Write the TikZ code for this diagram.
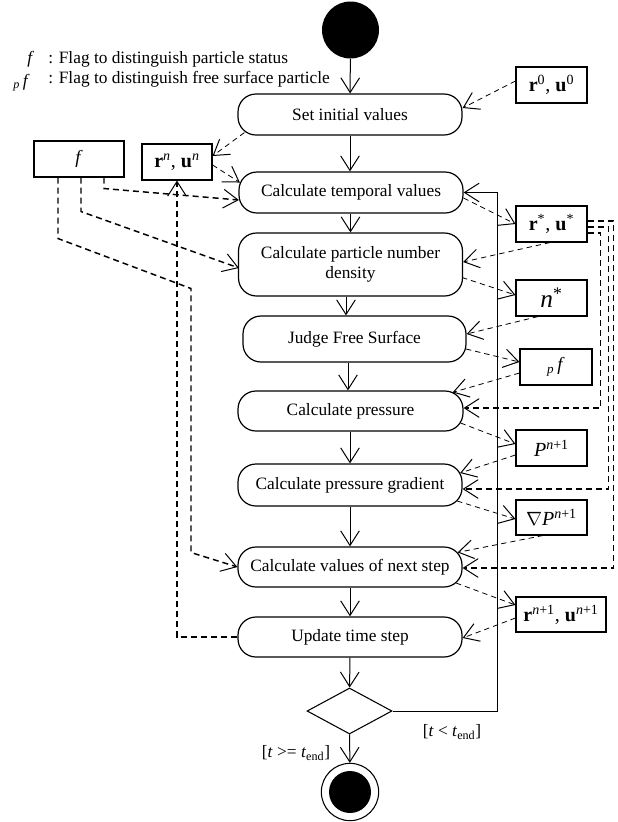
\documentclass[tikz,border=0pt]{standalone}
\usepackage{fontspec}
\setmainfont{Liberation Serif}
\usetikzlibrary{arrows.meta,calc,shapes.geometric}

\begin{document}
\begin{tikzpicture}[x=0.75pt,y=-0.75pt,
  action/.style={draw,line width=0.9pt,rounded corners=13.5pt,minimum width=168pt,
    minimum height=30.75pt,inner sep=0pt,align=center,font=\fontsize{13}{15}\selectfont},
  databox/.style={draw,line width=0.8pt,minimum width=53.25pt,minimum height=27pt,
    inner sep=0pt,font=\fontsize{15}{18}\selectfont},
  tip/.tip={Straight Barb[length=11pt,width=14pt,line width=0.75pt]},
  flow/.style={line width=0.75pt,-tip},
  dataflow/.style={line width=0.6pt,dash pattern=on 4pt off 3pt,-tip},
  route/.style={line width=1.1pt,dash pattern=on 4.5pt off 3pt},
  routearrow/.style={route,-tip},
  lbl/.style={inner sep=0pt,font=\fontsize{13}{15}\selectfont},
]
\useasboundingbox (0,0) rectangle (618,822);

% legend
\node[lbl,anchor=base west] (lgf) at (27,63) {\textit{f}};
\node[lbl,anchor=base west] (lg1) at (48,63) {: Flag to distinguish particle status};
\node[lbl,anchor=base west] (lgpf) at (13,86) {\textsubscript{\textit{p}}\,\textit{f}};
\node[lbl,anchor=base west] (lg2) at (48,83) {: Flag to distinguish free surface particle};

% activity nodes
\node[circle,fill,minimum size=42.75pt,inner sep=0pt] (start) at (350.5,30) {};
\node[action] (init) at (350,114.5) {Set initial values};
\node[action] (temp) at (351,192.5) {Calculate temporal values};
\node[action,minimum height=47.25pt] (dens) at (350.5,264.5) {Calculate particle number\\density};
\node[action,minimum width=167.25pt,minimum height=34.5pt] (judge) at (354.5,339) {Judge Free Surface};
\node[action,minimum width=168.75pt,minimum height=30pt] (pres) at (350.5,411) {Calculate pressure};
\node[action,minimum height=31.5pt] (grad) at (350,485) {Calculate pressure gradient};
\node[action,minimum height=30pt] (next) at (350,567) {Calculate values of next step};
\node[action,minimum height=30pt] (upd) at (350,637) {Update time step};
\node[diamond,draw,line width=0.8pt,minimum width=63.75pt,minimum height=34.5pt,inner sep=0pt] (diam) at (349.5,711) {};
\node[circle,draw,line width=0.8pt,minimum size=43pt,inner sep=0pt] (end) at (350,792) {};
\node[circle,fill,minimum size=31.5pt,inner sep=0pt] (endin) at (end) {};

% data objects
\node[databox] (r0) at (551.5,85) {\textbf{r}\textsuperscript{0}, \textbf{u}\textsuperscript{0}};
\node[databox,minimum width=52.5pt] (rn) at (177,162) {\textbf{r}\textsuperscript{\textit{n}}, \textbf{u}\textsuperscript{\textit{n}}};
\node[databox,minimum width=67.5pt,font=\fontsize{14}{16}\selectfont] (fbox) at (79,159) {\textit{f}};
\node[databox] (rs) at (551.5,224) {\textbf{r}\textsuperscript{*}, \textbf{u}\textsuperscript{*}};
\node[databox,font=\fontsize{19}{22}\selectfont] (ns) at (551.5,298) {\textit{n}\textsuperscript{*}};
\node[databox,minimum width=54pt,font=\fontsize{14}{16}\selectfont] (pf) at (556,367) {\textsubscript{\textit{p}}\,\textit{f}};
\node[databox] (P) at (551.5,448) {\textit{P}\textsuperscript{\textit{n}+1}};
\node[databox,minimum height=26.25pt] (gP) at (551.5,517.5) {$\nabla$\textit{P}\textsuperscript{\textit{n}+1}};
\node[databox,minimum width=67.5pt,minimum height=26.25pt] (rn1) at (561,614.5) {\textbf{r}\textsuperscript{\textit{n}+1}, \textbf{u}\textsuperscript{\textit{n}+1}};

% guards
\node[lbl] (lt) at (452,732) {[\textit{t} < \textit{t}\textsubscript{end}]};
\node[lbl] (ge) at (296,753) {[\textit{t} >= \textit{t}\textsubscript{end}]};

% control flow
\draw[flow] (start) -- (init);
\draw[flow] (init) -- (init.south |- temp.north);
\draw[flow] (temp.south -| dens.north) -- (dens);
\draw[flow] ($(dens.south)+(-4.5,0)$) -- ($(judge.north)+(-8.5,0)$);
\draw[flow] ($(judge.south)+(-6.5,0)$) -- ($(pres.north)+(-2.5,0)$);
\draw[flow] (pres.south -| grad.north) -- (grad);
\draw[flow] (grad) -- (next);
\draw[flow] (next) -- (upd);
\draw[flow] (upd) -- (diam);
\draw[flow] (diam) -- (end);
\draw[flow] (diam.east) -- ++(105,0) |- (temp.east);

% object flow
\draw[dataflow] ($(r0.west)+(0,-4)$) -- ($(init.east)+(0,-6.5)$);
\draw[dataflow] ($(init.south west)+(7,-3)$) -- ($(rn.east)+(0,-6)$);
\draw[dataflow] ($(rn.east)+(0,3)$) -- ($(temp.west)+(1.5,-10)$);
\draw[dataflow] ($(temp.east)+(0,5.5)$) -- (rs.west);
\draw[dataflow] ($(rs.south)+(-1.5,0)$) -- ($(dens.east)+(0,-2.5)$);
\draw[dataflow] ($(dens.east)+(-1,13)$) -- ($(ns.west)+(0,-3)$);
\draw[dataflow] ($(ns.south)+(-13.5,0)$) -- ($(judge.east)+(0,-5)$);
\draw[dataflow] ($(judge.east)+(-0.5,10)$) -- ($(pf.west)+(0,-5)$);
\draw[dataflow] ($(pf.west)+(0,6)$) -- ($(pres.north east)+(-11,2)$);
\draw[dataflow] ($(pres.east)+(-3,12)$) -- ($(P.west)+(0,-4)$);
\draw[dataflow] ($(P.west)+(0,7)$) -- ($(grad.east)+(-2.5,-12)$);
\draw[dataflow] ($(grad.east)+(-5.5,16)$) -- ($(gP.west)+(0,1.5)$);
\draw[dataflow] ($(gP.south)+(-8.5,0)$) -- ($(next.north east)+(-5,6)$);
\draw[dataflow] ($(next.east)+(-6.5,16)$) -- ($(rn1.west)+(0,-9.5)$);
\draw[dataflow] ($(rn1.west)+(0,3.5)$) -- ($(upd.east)+(0,1)$);

% flag and state routes
\draw[routearrow] ($(fbox.south)+(25,0)$) -- ++(0,11) -- ($(temp.west)+(0.5,7.5)$);
\draw[routearrow] ($(fbox.south)+(2,0)$) -- ++(0,34) -- ($(dens.west)+(1,3.5)$);
\draw[routearrow] ($(fbox.south)+(-21,0)$) -- ++(0,61) -- ++(133,50) -- ++(0,264) -- (next.west);
\draw[routearrow] (upd.west) -| (rn.south);
\draw[routearrow] ($(rs.east)+(0,9)$) -- ++(13,0) |- ($(pres.east)+(0,-3)$);
\draw[routearrow] ($(rs.east)+(0,3)$) -- ++(21,0) |- ($(grad.east)+(0,4)$);
\draw[routearrow] ($(rs.east)+(0,-3)$) -- ++(26,0) |- ($(next.east)+(0,1)$);
\end{tikzpicture}
\end{document}
